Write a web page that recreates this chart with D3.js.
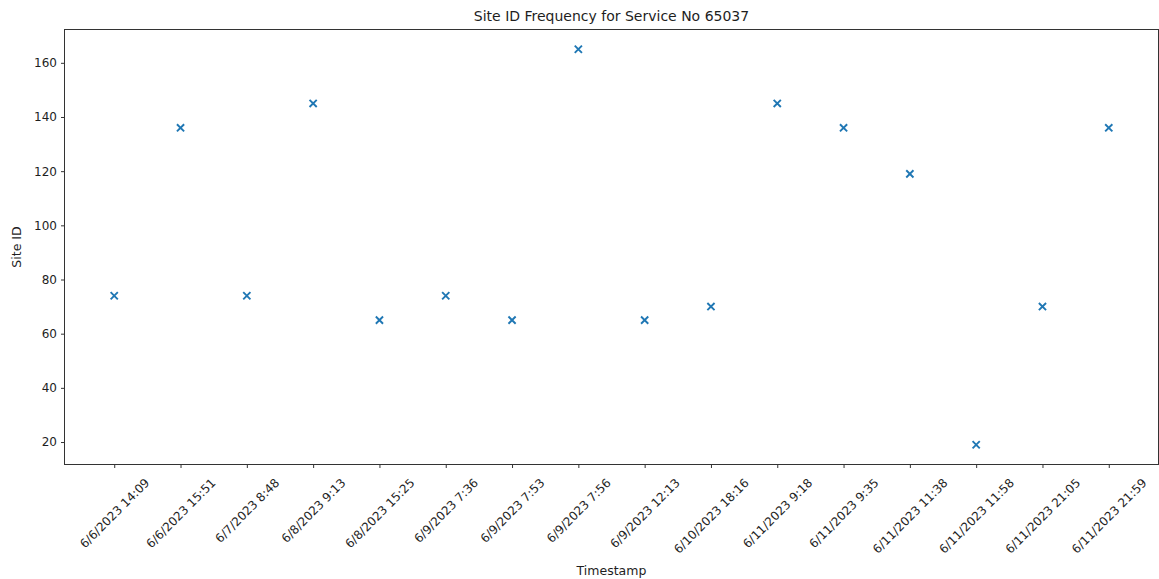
<!DOCTYPE html>
<html>
<head>
  <title>Site ID Frequency</title>
  <script src="https://d3js.org/d3.v7.min.js"></script>
  <style>
    html, body { margin: 0; background: #fff; overflow: hidden; }
    svg { display: block; }
    text { font-family: "DejaVu Sans", sans-serif; fill: #1e1e1e; }
    .axis path, .axis line { stroke: #333; }
  </style>
</head>
<body>
<div id="chart"></div>
<script>
  // data
  const timestamps = [
    "6/6/2023 14:09", "6/6/2023 15:51", "6/7/2023 8:48", "6/8/2023 9:13",
    "6/8/2023 15:25", "6/9/2023 7:36", "6/9/2023 7:53", "6/9/2023 7:56",
    "6/9/2023 12:13", "6/10/2023 18:16", "6/11/2023 9:18", "6/11/2023 9:35",
    "6/11/2023 11:38", "6/11/2023 11:58", "6/11/2023 21:05", "6/11/2023 21:59"
  ];
  const siteIds = [74, 136, 74, 145, 65, 74, 65, 165, 65, 70, 145, 136, 119, 19, 70, 136];
  const yTicks = [20, 40, 60, 80, 100, 120, 140, 160];

  const width = 1159;
  const height = 579;
  const margins = { top: 29.5, right: 0.5, bottom: 114.5, left: 64.5 };
  const chartWidth = width - margins.left - margins.right;
  const chartHeight = height - margins.top - margins.bottom;

  const svg = d3.select("#chart")
    .append("svg")
    .attr("width", width)
    .attr("height", height);

  const chartArea = svg.append("g")
    .attr("transform", `translate(${margins.left},${margins.top})`);

  // categorical x, matplotlib style 5% margins
  const xScale = d3.scalePoint()
    .domain(timestamps)
    .range([0, chartWidth])
    .padding(0.75);

  // y with 5% margins around data
  const yMin = d3.min(siteIds), yMax = d3.max(siteIds);
  const pad = (yMax - yMin) * 0.05;
  const yScale = d3.scaleLinear()
    .domain([yMin - pad, yMax + pad])
    .range([chartHeight, 0]);

  // y axis
  const yAxisGroup = chartArea.append("g")
    .attr("class", "axis")
    .call(d3.axisLeft(yScale).tickValues(yTicks).tickSize(3.5).tickPadding(4));
  yAxisGroup.select(".domain").remove();
  yAxisGroup.selectAll("text").style("font-size", "12px");

  // x axis
  const xAxisGroup = chartArea.append("g")
    .attr("class", "axis")
    .attr("transform", `translate(0,${chartHeight})`)
    .call(d3.axisBottom(xScale).tickSize(3.5));
  xAxisGroup.select(".domain").remove();

  // rotate tick labels 45deg, centered on tick, top aligned
  xAxisGroup.selectAll("text")
    .style("font-size", "12px")
    .attr("dy", null)
    .attr("y", 0)
    .attr("text-anchor", "middle")
    .attr("dominant-baseline", "central")
    .each(function () {
      const w = this.getComputedTextLength();
      const h = 12;
      const cy = 12 + (w + h) / (2 * Math.SQRT2);
      d3.select(this).attr("transform", `translate(0,${cy}) rotate(-45)`);
    });

  // frame
  chartArea.append("rect")
    .attr("width", chartWidth)
    .attr("height", chartHeight)
    .attr("fill", "none")
    .attr("stroke", "#333")
    .attr("stroke-width", 1);

  // x markers
  const s = 3.6;
  siteIds.forEach((v, i) => {
    const cx = xScale(timestamps[i]);
    const cy = yScale(v);
    chartArea.append("path")
      .attr("d", `M${cx - s},${cy - s}L${cx + s},${cy + s}M${cx - s},${cy + s}L${cx + s},${cy - s}`)
      .attr("stroke", "#1f77b4")
      .attr("stroke-width", 1.9)
      .attr("fill", "none");
  });

  // title and labels
  svg.append("text")
    .attr("x", margins.left + chartWidth / 2)
    .attr("y", 21)
    .attr("text-anchor", "middle")
    .style("font-size", "14px")
    .text("Site ID Frequency for Service No 65037");

  svg.append("text")
    .attr("x", margins.left + chartWidth / 2)
    .attr("y", 575)
    .attr("text-anchor", "middle")
    .style("font-size", "12.5px")
    .text("Timestamp");

  svg.append("text")
    .attr("transform", `translate(21,${margins.top + chartHeight / 2}) rotate(-90)`)
    .attr("text-anchor", "middle")
    .style("font-size", "12.5px")
    .text("Site ID");
</script>
</body>
</html>
